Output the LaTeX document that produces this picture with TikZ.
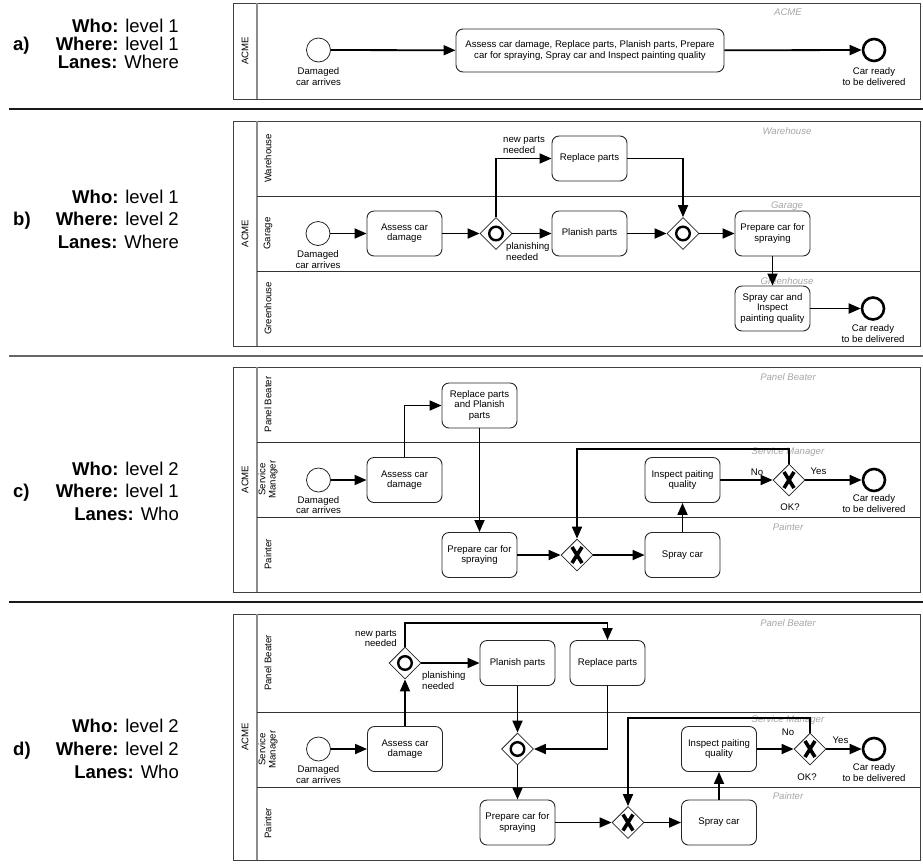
\documentclass[tikz,border=0pt]{standalone}
\usepackage{fontspec}
\setmainfont{Liberation Sans}
\usetikzlibrary{arrows.meta,shapes.geometric,calc}
\begin{document}
\begin{tikzpicture}[x=1pt,y=-1pt,
 every node/.style={font=\fontsize{9.6}{10.3}\selectfont},
 pool/.style={draw=black!75, line width=0.9pt},
 hdr/.style={draw=black!45, line width=2pt},
 lanesep/.style={draw=black!80, line width=0.9pt},
 task/.style={draw=black!85, line width=0.9pt, rounded corners=7pt, minimum width=75pt, minimum height=45pt, align=center, inner sep=2pt},
 startev/.style={circle, draw=black!85, line width=0.8pt, minimum size=24pt, inner sep=0pt},
 endev/.style={circle, draw=black, line width=2.6pt, minimum size=22pt, inner sep=0pt},
 gw/.style={diamond, draw=black!85, line width=0.8pt, minimum width=32pt, minimum height=32pt, inner sep=0pt, aspect=1},
 flow/.style={draw=black, line width=1.8pt, -{Triangle[length=12pt,width=10pt]}},
 lbl/.style={align=center, inner sep=0pt},
 wm/.style={text=black!35, inner sep=0pt, font=\fontsize{9.6}{10.3}\selectfont\itshape},
 lane/.style={rotate=90, align=center, inner sep=0pt},
 key/.style={anchor=base east, inner sep=0pt, font=\fontsize{18.5}{18.5}\selectfont},
 tag/.style={anchor=base west, inner sep=0pt, font=\fontsize{18.5}{18.5}\selectfont\bfseries},
 sepline/.style={line width=1.3pt},
 xstroke/.style={line width=3.6pt, line cap=butt}
]
\useasboundingbox (0,0) rectangle (923,863);
\newcommand{\orring}[1]{\draw[line width=2.4pt] (#1.center) circle (6.8);}
\newcommand{\xcross}[1]{\draw[xstroke] ($(#1.center)+(-5,-8)$) -- ($(#1.center)+(5,8)$);
  \draw[xstroke] ($(#1.center)+(5,-8)$) -- ($(#1.center)+(-5,8)$);}

% ---------- left labels ----------
\node[key] (ka1) at (179,32) {\textbf{Who:} level 1};
\node[key] (ka2) at (179,50) {\textbf{Where:} level 1};
\node[key] (ka3) at (179,68) {\textbf{Lanes:} Where};
\node[tag] (ta) at (13,50) {a)};
\node[key] (kb1) at (179,203) {\textbf{Who:} level 1};
\node[key] (kb2) at (179,225.5) {\textbf{Where:} level 2};
\node[key] (kb3) at (179,248) {\textbf{Lanes:} Where};
\node[tag] (tb) at (13,225.5) {b)};
\node[key] (kc1) at (179,475.5) {\textbf{Who:} level 2};
\node[key] (kc2) at (179,497.5) {\textbf{Where:} level 1};
\node[key] (kc3) at (179,520.5) {\textbf{Lanes:} Who};
\node[tag] (tc) at (13,497.5) {c)};
\node[key] (kd1) at (179,732.5) {\textbf{Who:} level 2};
\node[key] (kd2) at (179,755.5) {\textbf{Where:} level 2};
\node[key] (kd3) at (179,778.5) {\textbf{Lanes:} Who};
\node[tag] (td) at (13,755.5) {d)};

% separators
\draw[sepline, draw=black!90] (9,109) -- (923,109);
\draw[sepline, draw=black!60] (9,356) -- (923,356);
\draw[sepline, draw=black!90] (9,602) -- (923,602);

% ---------- a) ----------
\draw[pool] (233,3) rectangle (920,99);
\draw[hdr] (257,3) -- (257,99);
\node[lane] (aacme) at (245,51) {ACME};
\node[wm] (awm) at (788,12) {ACME};
\node[startev] (as) at (318.5,50) {};
\node[lbl] (asl) at (318.5,76.5) {Damaged\\car arrives};
\node[task, minimum width=268pt, minimum height=43pt] (at) at (590,50.5) {Assess car damage, Replace parts, Planish parts, Prepare\\car for spraying, Spray car and Inspect painting quality};
\node[endev] (ae) at (874,50) {};
\node[lbl] (ael) at (874,76.5) {Car ready\\to be delivered};
\draw[flow] (as) -- (at);
\draw[flow] (at) -- (ae);

% ---------- b) ----------
\draw[pool] (233,121) rectangle (920,346);
\draw[hdr] (257,121) -- (257,346);
\draw[lanesep] (257,196) -- (920,196);
\draw[lanesep] (257,271) -- (920,271);
\node[lane] (bacme) at (245,233.5) {ACME};
\node[lane] (bl1) at (268,158.5) {Warehouse};
\node[lane] (bl2) at (268,233.5) {Garage};
\node[lane] (bl3) at (268,308.5) {Greenhouse};
\node[wm] (bw1) at (787,131) {Warehouse};
\node[wm] (bw2) at (787,206) {Garage};
\node[wm] (bw3) at (787,281) {Greenhouse};
\node[startev] (bs) at (318,233.5) {};
\node[lbl] (bsl) at (318,259.5) {Damaged\\car arrives};
\node[task] (bassess) at (404.5,233.5) {Assess car\\damage};
\node[gw] (bg1) at (496,233.5) {};
\orring{bg1}
\node[task] (brepl) at (589.5,158.5) {Replace parts};
\node[task] (bplan) at (589.5,233.5) {Planish parts};
\node[gw] (bg2) at (683,233.5) {};
\orring{bg2}
\node[task] (bprep) at (772.5,233.5) {Prepare car for\\spraying};
\node[task] (bspray) at (772.5,308.5) {Spray car and\\Inspect\\painting quality};
\node[endev] (be) at (873,308.5) {};
\node[lbl] (bel) at (873,333.5) {Car ready\\to be delivered};
\node[lbl, anchor=west, align=left] (bnp) at (503,145) {new parts\\needed};
\node[lbl, anchor=west, align=left] (bpn) at (506,251.5) {planishing\\needed};
\draw[flow] (bs) -- (bassess);
\draw[flow] (bassess) -- (bg1);
\draw[flow] (bg1.north) |- (brepl.west);
\draw[flow] (bg1) -- (bplan);
\draw[flow] (bplan) -- (bg2);
\draw[flow] (brepl.east) -| (bg2.north);
\draw[flow] (bg2) -- (bprep);
\draw[flow] (bprep) -- (bspray);
\draw[flow] (bspray) -- (be);

% ---------- c) ----------
\draw[pool] (233,367) rectangle (920,592);
\draw[hdr] (257,367) -- (257,592);
\draw[lanesep] (257,442) -- (920,442);
\draw[lanesep] (257,517) -- (920,517);
\node[lane] (cacme) at (245,479.5) {ACME};
\node[lane] (cl1) at (268,404.5) {Panel Beater};
\node[lane] (cl2) at (268,479.5) {Service\\Manager};
\node[lane] (cl3) at (268,554.5) {Painter};
\node[wm] (cw1) at (788,377) {Panel Beater};
\node[wm] (cw2) at (788,452) {Service Manager};
\node[wm] (cw3) at (788,527) {Painter};
\node[startev] (cs) at (318.5,480) {};
\node[lbl] (csl) at (318.5,505) {Damaged\\car arrives};
\node[task] (cassess) at (404.5,480) {Assess car\\damage};
\node[task] (crp) at (479.5,405.5) {Replace parts\\and Planish\\parts};
\node[task] (cprep) at (479.5,555) {Prepare car for\\spraying};
\node[gw] (cx1) at (577,555) {};
\xcross{cx1}
\node[task] (cspray) at (682.5,555) {Spray car};
\node[task] (cinsp) at (682.5,480) {Inspect paiting\\quality};
\node[gw] (cx2) at (789,480) {};
\xcross{cx2}
\node[endev] (ce) at (874,480) {};
\node[lbl] (cel) at (874,503.5) {Car ready\\to be delivered};
\node[lbl] (cno) at (757,472) {No};
\node[lbl] (cyes) at (818.5,471) {Yes};
\node[lbl] (cok) at (790,507) {OK?};
\coordinate (cback) at (789,449);
\draw[flow] (cs) -- (cassess);
\draw[flow] (cassess.north) |- (crp.west);
\draw[flow] (crp) -- (cprep);
\draw[flow] (cprep) -- (cx1);
\draw[flow] (cx1) -- (cspray);
\draw[flow] (cspray) -- (cinsp);
\draw[flow] (cinsp) -- (cx2);
\draw[flow] (cx2) -- (ce);
\draw[flow] (cx2.north) -- (cback) -| (cx1.north);

% ---------- d) ----------
\draw[pool] (233,614) rectangle (920,860);
\draw[hdr] (257,614) -- (257,860);
\draw[lanesep] (257,712) -- (920,712);
\draw[lanesep] (257,787) -- (920,787);
\node[lane] (dacme) at (245,737) {ACME};
\node[lane] (dl1) at (268,663) {Panel Beater};
\node[lane] (dl2) at (268,749.5) {Service\\Manager};
\node[lane] (dl3) at (268,823.5) {Painter};
\node[wm] (dw1) at (788,623) {Panel Beater};
\node[wm] (dw2) at (788,720) {Service Manager};
\node[wm] (dw3) at (788,796) {Painter};
\node[startev] (ds) at (318.5,749) {};
\node[lbl] (dsl) at (318.5,774.5) {Damaged\\car arrives};
\node[task] (dassess) at (405,749) {Assess car\\damage};
\node[gw] (dgA) at (405,663) {};
\orring{dgA}
\node[task] (dplan) at (517.5,663) {Planish parts};
\node[task] (drepl) at (607.5,663) {Replace parts};
\node[gw] (dgB) at (517.5,749) {};
\orring{dgB}
\node[task] (dprep) at (517.5,822.5) {Prepare car for\\spraying};
\node[gw] (dx1) at (628,822.5) {};
\xcross{dx1}
\node[task] (dspray) at (719,822.5) {Spray car};
\node[task] (dinsp) at (719,749) {Inspect paiting\\quality};
\node[gw] (dx2) at (810,749) {};
\xcross{dx2}
\node[endev] (de) at (874,749) {};
\node[lbl] (del) at (874,772.5) {Car ready\\to be delivered};
\node[lbl, anchor=east, align=right] (dnp) at (397,638.5) {new parts\\needed};
\node[lbl, anchor=west, align=left] (dpn) at (422,680.5) {planishing\\needed};
\node[lbl] (dno) at (788,732) {No};
\node[lbl] (dyes) at (840.5,740) {Yes};
\node[lbl] (dok) at (807,777) {OK?};
\coordinate (dtop) at (405,623);
\coordinate (dback) at (810,718);
\draw[flow] (ds) -- (dassess);
\draw[flow] (dassess) -- (dgA);
\draw[flow] (dgA.north) -- (dtop) -| (drepl.north);
\draw[flow] (dgA) -- (dplan);
\draw[flow] (dplan) -- (dgB);
\draw[flow] (drepl.south) |- (dgB.east);
\draw[flow] (dgB) -- (dprep);
\draw[flow] (dprep) -- (dx1);
\draw[flow] (dx1) -- (dspray);
\draw[flow] (dspray) -- (dinsp);
\draw[flow] (dinsp) -- (dx2);
\draw[flow] (dx2) -- (de);
\draw[flow] (dx2.north) -- (dback) -| (dx1.north);
\end{tikzpicture}
\end{document}
